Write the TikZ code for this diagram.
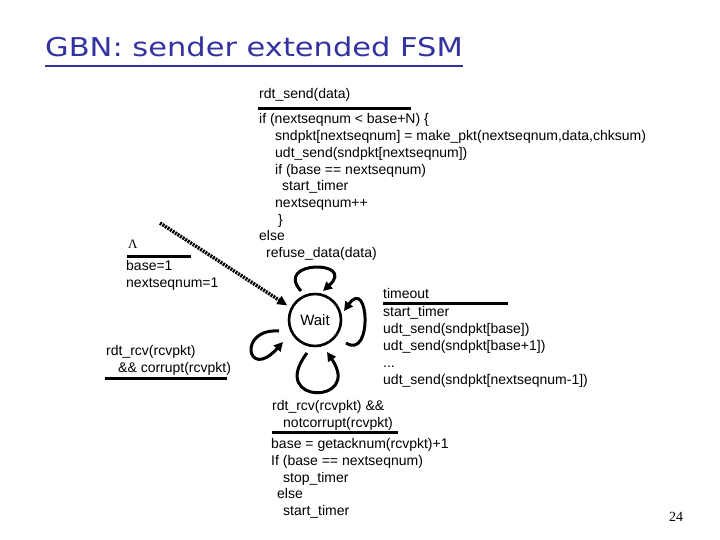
\documentclass[tikz,border=0pt]{standalone}
\usepackage{fontspec}
\setmainfont{Liberation Sans}
\newfontfamily\titlefont{DejaVu Sans}
\newfontfamily\serifface{Liberation Serif}
\usetikzlibrary{arrows.meta}
\definecolor{titleblue}{RGB}{50,50,160}
\begin{document}
\begin{tikzpicture}[x=1pt,y=-1pt,
  code/.style={anchor=base west,inner sep=0pt,font=\fontsize{14pt}{16.8pt}\selectfont},
  guardbar/.style={line width=3pt},
  state/.style={circle,draw,line width=2.6pt,minimum size=52pt,inner sep=0pt,font=\fontsize{15pt}{17pt}\selectfont},
  loopedge/.style={line width=3pt,-{Triangle[length=9pt,width=9pt]}},
  initedge/.style={line width=3.5pt,dash pattern=on 2pt off 1pt,-{Triangle[length=10pt,width=9pt]}}]
\useasboundingbox[fill=white] (0,0) rectangle (720,540);

% title
\node[anchor=base west,inner sep=0pt,text=titleblue,font=\titlefont\fontsize{24pt}{28pt}\selectfont] (title) at (45,57) {\scalebox{1.27}[1.08]{GBN: sender extended FSM}};
\draw[titleblue,line width=2.2pt] ([yshift=-9pt]title.base west) -- ([yshift=-9pt]title.base east);

% state
\node[state] (wait) at (315,320) {Wait};

% rdt_send block
\node[code] (s0) at (259,99) {rdt\_send(data)};
\draw[guardbar] (258,109) -- (411,109);
\node[code] (s1) at (259,124) {if (nextseqnum < base+N) \{};
\node[code] (s2) at (275,140.7) {sndpkt[nextseqnum] = make\_pkt(nextseqnum,data,chksum)};
\node[code] (s3) at (275,157.4) {udt\_send(sndpkt[nextseqnum])};
\node[code] (s4) at (275,174.1) {if (base == nextseqnum)};
\node[code] (s5) at (282,190.8) {start\_timer};
\node[code] (s6) at (275,207.5) {nextseqnum++};
\node[code] (s7) at (278,224.2) {\}};
\node[code] (s8) at (259,240.9) {else};
\node[code] (s9) at (266,257.6) {refuse\_data(data)};

% init block
\node[anchor=base west,inner sep=0pt,font=\serifface\fontsize{13pt}{15pt}\selectfont] (lam) at (128,248) {Λ};
\draw[guardbar] (127,256) -- (191,256);
\node[code] (i1) at (126,270) {base=1};
\node[code] (i2) at (126,287) {nextseqnum=1};

% corrupt block
\node[code] (c1) at (106,355) {rdt\_rcv(rcvpkt)};
\node[code] (c2) at (118,372) {\&\& corrupt(rcvpkt)};
\draw[guardbar] (105,378) -- (227,378);

% timeout block
\node[code] (o0) at (383,298) {timeout};
\draw[guardbar] (383,303) -- (508,303);
\node[code] (o1) at (383,316) {start\_timer};
\node[code] (o2) at (383,333) {udt\_send(sndpkt[base])};
\node[code] (o3) at (383,350) {udt\_send(sndpkt[base+1])};
\node[code] (o4) at (383,367) {...};
\node[code] (o5) at (383,384) {udt\_send(sndpkt[nextseqnum-1])};

% ack block
\node[code] (a0) at (272,410) {rdt\_rcv(rcvpkt) \&\&};
\node[code] (a1) at (283,427) {notcorrupt(rcvpkt)};
\draw[guardbar] (272,432) -- (398,432);
\node[code] (a2) at (271,448) {base = getacknum(rcvpkt)+1};
\node[code] (a3) at (271,465) {If (base == nextseqnum)};
\node[code] (a4) at (283,482) {stop\_timer};
\node[code] (a5) at (277,498) {else};
\node[code] (a6) at (283,515) {start\_timer};

% page number
\node[anchor=base west,inner sep=0pt,font=\serifface\fontsize{14pt}{16pt}\selectfont] (pg) at (669,521) {24};

% initial arrow
\coordinate (initstart) at (160,223);
\draw[initedge,shorten >=4pt] (initstart) -- (wait.153);

% self loops
\draw[loopedge] ([shift={(-14,-29)}]wait.center) .. controls ([shift={(-42,-60)}]wait.center) and ([shift={(42,-60)}]wait.center) .. ([shift={(8,-29)}]wait.center);
\draw[loopedge] ([shift={(31,23)}]wait.center) .. controls ([shift={(58,40)}]wait.center) and ([shift={(54,-44)}]wait.center) .. ([shift={(29,-9)}]wait.center);
\draw[loopedge] ([shift={(-36,11)}]wait.center) .. controls ([shift={(-78,8)}]wait.center) and ([shift={(-68,62)}]wait.center) .. ([shift={(-32,22)}]wait.center);
\draw[loopedge] ([shift={(-8,33)}]wait.center) .. controls ([shift={(-48,85)}]wait.center) and ([shift={(48,85)}]wait.center) .. ([shift={(12,32)}]wait.center);
\end{tikzpicture}
\end{document}
